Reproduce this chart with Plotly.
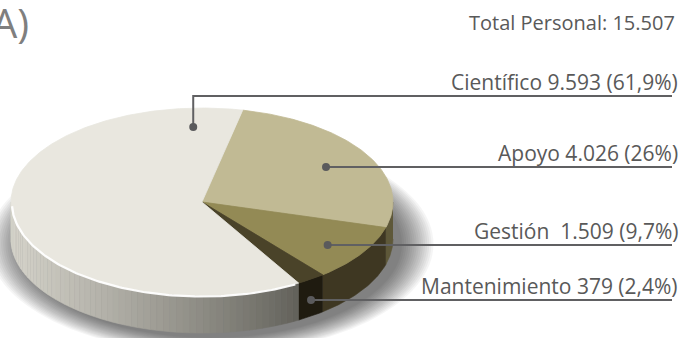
import numpy as np
import plotly.graph_objects as go

# Personal por categoría
categorias = ["Científico", "Apoyo", "Gestión", "Mantenimiento"]
personal = [9593, 4026, 1509, 379]
separadores = [" ", " ", "  ", " "]
titulo_panel = "A)"
texto_total = "Total Personal: "

# Estilo de cada porción: cara superior y lateral
color_sup = {"Científico": "#E9E7DF", "Apoyo": "#C1BA94",
             "Gestión": "#938A55", "Mantenimiento": "#4A4329"}
color_lat = {"Apoyo": "#5E5839", "Gestión": "#3E3722",
             "Mantenimiento": "#1F1B10"}
lat_claro, lat_oscuro = np.array([214, 212, 203]), np.array([98, 97, 90])

# Geometría del disco en coordenadas de página
CX, CY, RX, RY, PROF = 202.0, 202.0, 191.0, 94.0, 37.0
ANG0 = 12.3                      # inicio de la primera porción (grados, horario)
orden = ["Apoyo", "Gestión", "Mantenimiento", "Científico"]

# Anclas de las etiquetas: (fracción del ángulo de la porción, fracción del radio, en lateral)
anclas = {"Científico": (0.93, 0.80, None), "Apoyo": (0.51, 0.75, None),
          "Gestión": (0.54, 0.80, None), "Mantenimiento": (0.50, 1.0, 0.56)}
y_linea = {"Científico": 96, "Apoyo": 167, "Gestión": 245, "Mantenimiento": 300}
X_FIN_LINEA, X_TEXTO = 672, 680
GRIS_LINEA, GRIS_TEXTO = "#606062", "#595959"
FUENTE = "Open Sans"
TAM = 21


def punto(theta, r=1.0, bajada=0.0):
    t = np.radians(theta)
    return CX + r * RX * np.sin(t), CY - r * RY * np.cos(t) + bajada


total = sum(personal)
valores = dict(zip(categorias, personal))
rangos = {}
a = ANG0
for cat in orden:
    barrido = valores[cat] / total * 360.0
    rangos[cat] = (a, a + barrido)
    a += barrido

fig = go.Figure()

# Sombra difusa bajo el disco
for k in range(16):
    e = 1.0 + 0.011 * (15 - k)
    fig.add_shape(type="circle", xref="x", yref="y", layer="below",
                  x0=CX + 9 - RX * e, x1=CX + 9 + RX * e,
                  y0=CY + PROF + 5 - RY * e, y1=CY + PROF + 5 + RY * e,
                  fillcolor="rgba(0,0,0,0.04)", line=dict(width=0))


def poligono(xs, ys, color, ancho=0.6):
    fig.add_trace(go.Scatter(x=xs, y=ys, mode="lines", fill="toself",
                             fillcolor=color, line=dict(color=color, width=ancho),
                             hoverinfo="skip", showlegend=False))


# Caras laterales (solo la mitad frontal, 90°–270°)
for cat in orden:
    a1, a2 = rangos[cat]
    for desfase in (0.0, 360.0):
        lo, hi = max(a1 - desfase, 90.0), min(a2 - desfase, 270.0)
        if hi <= lo:
            continue
        if cat == "Científico":
            bordes = np.linspace(lo, hi, 61)
            for b1, b2 in zip(bordes[:-1], bordes[1:]):
                xm, _ = punto((b1 + b2) / 2)
                f = np.clip((xm - 10) / (punto(lo)[0] - 10), 0, 1)
                c = lat_oscuro + (lat_claro - lat_oscuro) * (1 - f) ** 0.9
                col = "rgb(%d,%d,%d)" % tuple(c)
                th = np.linspace(b1, b2, 4)
                xs1, ys1 = punto(th)
                xs2, ys2 = punto(th[::-1], bajada=PROF)
                poligono(np.r_[xs1, xs2], np.r_[ys1, ys2], col)
        else:
            th = np.linspace(lo, hi, 40)
            xs1, ys1 = punto(th)
            xs2, ys2 = punto(th[::-1], bajada=PROF)
            poligono(np.r_[xs1, xs2], np.r_[ys1, ys2], color_lat[cat])

# Caras superiores
for cat in orden:
    a1, a2 = rangos[cat]
    th = np.linspace(a1, a2, max(8, int((a2 - a1) * 2)))
    xs, ys = punto(th)
    poligono(np.r_[CX, xs, CX], np.r_[CY, ys, CY], color_sup[cat], ancho=0.8)

# Brillo del borde frontal
a1, _ = rangos["Científico"]
th = np.linspace(a1 + 1, 268, 120)
xs, ys = punto(th, r=0.995, bajada=1.0)
fig.add_trace(go.Scatter(x=xs, y=ys, mode="lines",
                         line=dict(color="rgba(255,255,255,0.95)", width=2.2),
                         hoverinfo="skip", showlegend=False))

# Líneas guía, puntos y etiquetas
for cat, sep in zip(categorias, separadores):
    a1, a2 = rangos[cat]
    fa, fr, fb = anclas[cat]
    theta = a1 + fa * (a2 - a1)
    px, py = punto(theta, r=fr, bajada=(fb or 0) * PROF)
    yl = y_linea[cat]
    if abs(py - yl) > 3:
        lx, ly = [px, px, X_FIN_LINEA], [py, yl, yl]
    else:
        lx, ly = [px, X_FIN_LINEA], [yl, yl]
        py = yl
    fig.add_trace(go.Scatter(x=lx, y=ly, mode="lines",
                             line=dict(color=GRIS_LINEA, width=2),
                             hoverinfo="skip", showlegend=False))
    fig.add_trace(go.Scatter(x=[px], y=[py], mode="markers",
                             marker=dict(color="#5A5A5C", size=8),
                             hoverinfo="skip", showlegend=False))
    v = valores[cat]
    cifra = f"{v:,}".replace(",", ".")
    pct = f"{v / total * 100:.1f}".replace(".", ",")
    if pct.endswith(",0"):
        pct = pct[:-2]
    fig.add_annotation(x=X_TEXTO, y=yl + 2, xref="x", yref="y",
                       xanchor="right", yanchor="bottom", showarrow=False,
                       text=f"{cat}{sep}{cifra} ({pct}%)",
                       font=dict(family=FUENTE, size=TAM, color=GRIS_TEXTO))

fig.add_annotation(x=X_TEXTO - 3, y=22, xref="x", yref="y", xanchor="right",
                   yanchor="middle", showarrow=False,
                   text=texto_total + f"{total:,}".replace(",", "."),
                   font=dict(family=FUENTE, size=20, color=GRIS_TEXTO))
fig.add_annotation(x=-10 / 684, y=1 - 22 / 338, xref="paper", yref="paper",
                   xanchor="left", yanchor="middle", showarrow=False,
                   text=titulo_panel,
                   font=dict(family=FUENTE, size=40, color="#7F7F7F"))

fig.update_layout(
    width=684, height=338, margin=dict(l=0, r=0, t=0, b=0),
    paper_bgcolor="white", plot_bgcolor="white", showlegend=False,
    xaxis=dict(range=[0, 684], visible=False, fixedrange=True),
    yaxis=dict(range=[338, 0], visible=False, fixedrange=True),
)
fig.write_html("out.html")
